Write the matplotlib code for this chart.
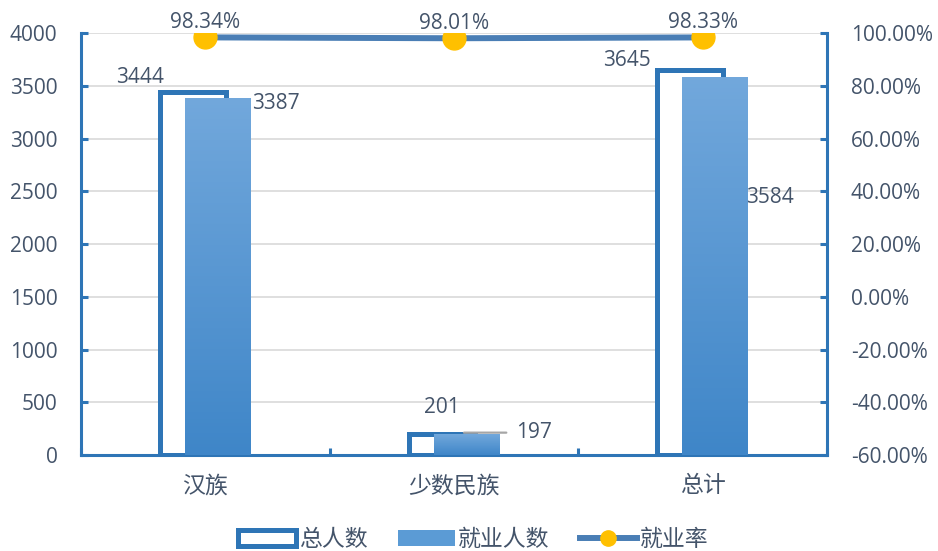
import numpy as np
import matplotlib
matplotlib.use("Agg")
import matplotlib.pyplot as plt
from matplotlib.colors import LinearSegmentedColormap
from matplotlib.lines import Line2D

plt.rcParams["font.family"] = ["Open Sans", "Noto Sans CJK SC", "DejaVu Sans"]

categories = ["汉族", "少数民族", "总计"]
total = [3444, 201, 3645]          # 总人数
employed = [3387, 197, 3584]       # 就业人数
rate = [0.9834, 0.9801, 0.9833]    # 就业率

BLUE = "#2E75B6"
LINE = "#4A7EB5"
YELLOW = "#FFC000"
TXT = "#44546A"
FS = 15        # numbers
FS_CN = 16.5   # chinese labels

fig = plt.figure(figsize=(9.38, 5.51), dpi=100)
ax = fig.add_axes([0.0864, 0.1742, 0.7953, 0.7659])
ax2 = ax.twinx()

x = np.arange(len(categories))
w, off = 0.265, 0.05

ax.yaxis.grid(True, color="#D9D9D9", lw=1.2, zorder=0)
ax.set_axisbelow(True)

open_bars = ax.bar(x - off, total, w, facecolor="white", edgecolor=BLUE,
                   linewidth=3.6, zorder=2, label="总人数")
fill_bars = ax.bar(x + off, employed, w, facecolor="#5B9BD5", edgecolor="none",
                   zorder=3, label="就业人数")

# vertical gradient for the filled bars
cmap = LinearSegmentedColormap.from_list("g", ["#3F86C8", "#72A8DC"])
grad = np.linspace(0, 1, 256).reshape(-1, 1)
for b in fill_bars:
    x0, h, bw = b.get_x(), b.get_height(), b.get_width()
    im = ax.imshow(grad, cmap=cmap, origin="lower", aspect="auto",
                   extent=(x0, x0 + bw, 0, h), zorder=3.1)
    im.set_clip_path(b)

ax.set_xlim(-0.5, 2.5)
ax.set_ylim(0, 4000)
ax.set_yticks(np.arange(0, 4001, 500))
ax.set_xticks(x)
ax.set_xticklabels(categories, fontsize=FS_CN)
ax.set_xticks([-0.5, 0.5, 1.5, 2.5], minor=True)

for s in ["top", "right"]:
    ax.spines[s].set_visible(False)
for s in ["left", "bottom"]:
    ax.spines[s].set_color(BLUE)
    ax.spines[s].set_linewidth(2.2)
ax.tick_params(axis="y", direction="in", length=5, width=2.2, color=BLUE,
               labelsize=FS, labelcolor=TXT, pad=17)
ax.tick_params(axis="x", which="major", length=0, labelcolor=TXT, pad=14)
ax.tick_params(axis="x", which="minor", direction="in", length=5, width=2.2, color=BLUE)

# bar labels (offsets in pixels, as placed in the reference)
open_offsets = [(-53, 14), (0, 26), (-63, 10)]
fill_offsets = [(61, -7), (70, 0), (57, -122)]
for b, v, o in zip(open_bars, total, open_offsets):
    ax.annotate(str(v), (b.get_x() + b.get_width() / 2, v), xytext=o,
                textcoords="offset pixels", ha="center", va="center",
                fontsize=FS, color=TXT, zorder=5)
for i, (b, v, o) in enumerate(zip(fill_bars, employed, fill_offsets)):
    kw = {}
    if i == 1:
        kw["arrowprops"] = dict(arrowstyle="-", color="#A6A6A6", lw=1.6,
                                shrinkA=5, shrinkB=0)
    ax.annotate(str(v), (b.get_x() + b.get_width() / 2 - 0.01, v + 15), xytext=o,
                textcoords="offset pixels", ha="center", va="center",
                fontsize=FS, color=TXT, zorder=6, **kw)

# employment rate line
ax2.plot(x, rate, color=LINE, lw=4.3, marker="o", markersize=16.5,
         markerfacecolor=YELLOW, markeredgecolor=YELLOW, zorder=4, label="就业率")
for xi, r in zip(x, rate):
    ax2.annotate(f"{r:.2%}", (xi, r), xytext=(0, 15), textcoords="offset pixels",
                 ha="center", va="center", fontsize=FS, color=TXT)
ax2.set_ylim(-0.6, 1.0)
ax2.set_yticks(np.arange(-0.6, 1.0001, 0.2))
ax2.yaxis.set_major_formatter(matplotlib.ticker.FuncFormatter(lambda v, p: f"{v:.2%}"))
for s in ["top", "left", "bottom"]:
    ax2.spines[s].set_visible(False)
ax2.spines["right"].set_color(BLUE)
ax2.spines["right"].set_linewidth(2.2)
ax2.tick_params(axis="y", direction="in", length=5, width=2.2, color=BLUE,
                labelsize=FS, labelcolor=TXT, pad=17)

handles = [open_bars, fill_bars,
           Line2D([], [], color=LINE, lw=4.3, marker="o", markersize=11,
                  markerfacecolor=YELLOW, markeredgecolor=YELLOW)]
fig.legend(handles, ["总人数", "就业人数", "就业率"], loc="center",
           bbox_to_anchor=(0.505, 0.02), ncol=3, frameon=False, fontsize=FS_CN,
           labelcolor=TXT, handlelength=2.5, handletextpad=0.15, columnspacing=1.3)

fig.savefig("out.png", dpi=100)
